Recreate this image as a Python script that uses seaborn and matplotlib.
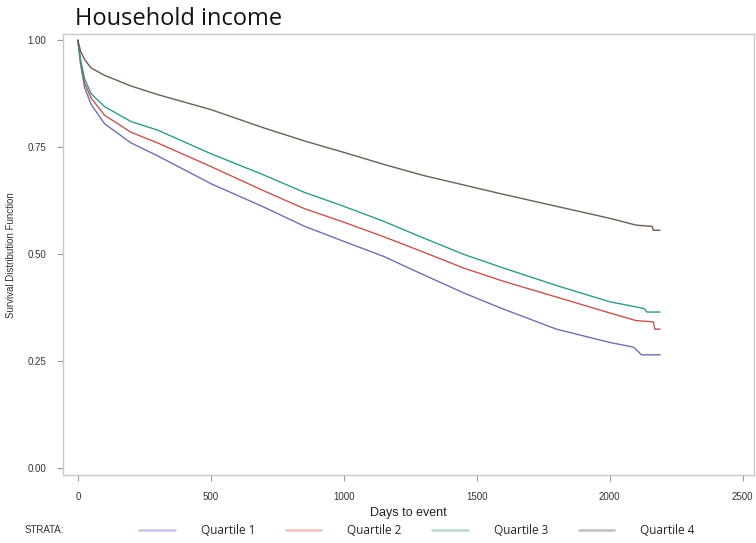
import matplotlib

matplotlib.use("Agg")

import matplotlib.pyplot as plt
import pandas as pd
import seaborn as sns
from matplotlib.lines import Line2D

# Kaplan-Meier style survival estimates.
DAYS_Q1 = [0, 10, 25, 50, 100, 200, 300, 500, 700, 850, 1000, 1150, 1300, 1450, 1600, 1800, 2000, 2090, 2120, 2190]
SURV_Q1 = [1.0, 0.945, 0.89, 0.85, 0.805, 0.76, 0.73, 0.665, 0.61, 0.566, 0.530, 0.495, 0.452, 0.410, 0.372, 0.325, 0.294, 0.283, 0.265, 0.265]

DAYS_Q2 = [0, 10, 25, 50, 100, 200, 300, 500, 700, 850, 1000, 1150, 1300, 1450, 1600, 1800, 2000, 2100, 2165, 2170, 2190]
SURV_Q2 = [1.0, 0.95, 0.90, 0.865, 0.825, 0.785, 0.76, 0.705, 0.648, 0.607, 0.575, 0.541, 0.505, 0.468, 0.437, 0.400, 0.363, 0.345, 0.342, 0.325, 0.325]

DAYS_Q3 = [0, 10, 25, 50, 100, 200, 300, 500, 700, 850, 1000, 1150, 1300, 1450, 1600, 1800, 2000, 2100, 2130, 2140, 2190]
SURV_Q3 = [1.0, 0.955, 0.91, 0.875, 0.845, 0.81, 0.79, 0.735, 0.685, 0.645, 0.612, 0.577, 0.538, 0.500, 0.468, 0.427, 0.389, 0.377, 0.373, 0.365, 0.365]

DAYS_Q4 = [0, 10, 25, 50, 100, 200, 300, 500, 700, 850, 1000, 1150, 1300, 1450, 1600, 1800, 2000, 2100, 2160, 2165, 2190]
SURV_Q4 = [1.0, 0.975, 0.955, 0.935, 0.918, 0.893, 0.873, 0.838, 0.795, 0.765, 0.738, 0.710, 0.684, 0.662, 0.640, 0.612, 0.584, 0.568, 0.565, 0.556, 0.556]

STRATA = ["Quartile 1", "Quartile 2", "Quartile 3", "Quartile 4"]
COLORS = ["#6a72b4", "#c4564e", "#2f9b8b", "#6e5e50"]
LEGEND_COLORS = ["#c9cbe2", "#ecc8c6", "#bcd9d3", "#c8c4c0"]
X_TICKS = [0, 500, 1000, 1500, 2000, 2500]
Y_TICKS = [0.00, 0.25, 0.50, 0.75, 1.00]


def build_frame() -> pd.DataFrame:
    parts = []
    for name, d, s in zip(
        STRATA,
        [DAYS_Q1, DAYS_Q2, DAYS_Q3, DAYS_Q4],
        [SURV_Q1, SURV_Q2, SURV_Q3, SURV_Q4],
    ):
        parts.append(pd.DataFrame({"days": d, "surv": s, "strata": name}))
    return pd.concat(parts, ignore_index=True)


df = build_frame()

sns.set_style("white")
plt.rcParams["font.family"] = ["Liberation Sans", "DejaVu Sans"]

fig = plt.figure(figsize=(7.56, 5.43), dpi=100)
ax = fig.add_axes([0.0833, 0.125, 0.914, 0.812])

sns.lineplot(
    data=df, x="days", y="surv", hue="strata", palette=COLORS,
    hue_order=STRATA, linewidth=1.0, legend=False, ax=ax, sort=False,
    estimator=None,
)

ax.set_xlim(-56, 2543)
ax.set_ylim(-0.016, 1.014)
ax.set_xticks(X_TICKS)
ax.set_yticks(Y_TICKS)
ax.set_yticklabels([f"{v:.2f}" for v in Y_TICKS])
ax.tick_params(axis="both", labelsize=7, colors="#9a9a9a", labelcolor="#333333",
               length=4, width=0.8, direction="out", bottom=True, left=True, pad=8)
for side in ["left", "right", "top", "bottom"]:
    ax.spines[side].set_color("#c8c8c8")
    ax.spines[side].set_linewidth(1.0)

ax.set_xlabel("Days to event", fontsize=9, color="#222222", labelpad=4)
ax.set_ylabel("Survival Distribution Function", fontsize=7, color="#333333", labelpad=8)

fig.text(0.099, 0.965, "Household income", fontsize=17, color="#111111",
         family=["Open Sans", "DejaVu Sans"], va="center", ha="left")

# Legend row
fig.text(0.033, 0.024, "STRATA:", fontsize=7, color="#333333", va="center")
handles = [Line2D([0], [0], color=c, linewidth=2.0) for c in LEGEND_COLORS]
fig.legend(handles, STRATA, loc="lower left", bbox_to_anchor=(0.17, -0.008),
           ncol=4, frameon=False, handlelength=3.0,
           handletextpad=2.2, columnspacing=2.6,
           prop={"family": ["Open Sans", "DejaVu Sans"], "size": 8.5})

fig.savefig("out.png", dpi=100)
